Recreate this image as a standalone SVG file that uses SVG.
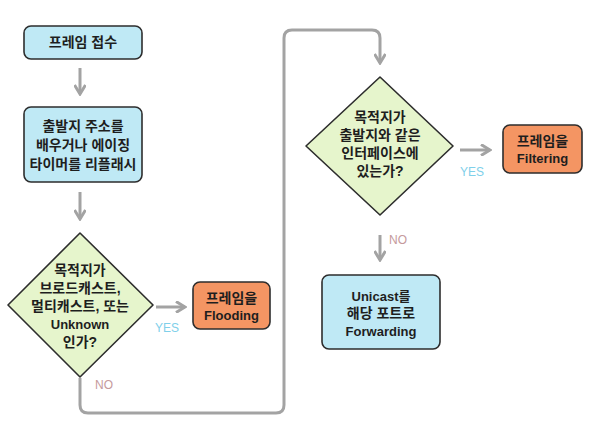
<svg xmlns="http://www.w3.org/2000/svg" width="604" height="442" viewBox="0 0 604 442">
<defs>
<marker id="chev" viewBox="0 0 12 12" refX="10" refY="6" markerWidth="12" markerHeight="12" markerUnits="userSpaceOnUse" orient="auto">
<polyline points="1,0.5 10,6 1,11.5" fill="none" stroke="#a3a3a3" stroke-width="3" stroke-linejoin="miter"/>
</marker>
<style>
.t{font-family:"Liberation Sans","Noto Sans CJK KR",sans-serif;font-size:13px;font-weight:bold;fill:#1e1e1e;text-anchor:middle}
.k{font-size:14px}
.blue{fill:#bfe9f5;stroke:#2d2d2d;stroke-width:1.6}
.org{fill:#f49563;stroke:#2d2d2d;stroke-width:1.6}
.grn{fill:#e6f5cc;stroke:#2d2d2d;stroke-width:1.6;stroke-linejoin:round}
.c{fill:none;stroke:#a3a3a3;stroke-width:3}
.yes{font-family:"Liberation Sans",sans-serif;font-size:12px;fill:#7fd0ea;text-anchor:middle}
.no{font-family:"Liberation Sans",sans-serif;font-size:12px;fill:#c59a9c;text-anchor:middle}
</style>
</defs>
<rect width="604" height="442" fill="#ffffff"/>
<g id="connectors">
<line class="c" x1="80" y1="68" x2="80" y2="94" marker-end="url(#chev)"/>
<line class="c" x1="80" y1="192" x2="80" y2="219" marker-end="url(#chev)"/>
<line class="c" x1="156" y1="307" x2="185" y2="307" marker-end="url(#chev)"/>
<path class="c" d="M80,378 V405 Q80,413 88,413 H276 Q284,413 284,405 V38 Q284,30 292,30 H372 Q380,30 380,38 V63" marker-end="url(#chev)"/>
<line class="c" x1="460" y1="150" x2="490" y2="150" marker-end="url(#chev)"/>
<line class="c" x1="380" y1="235" x2="380" y2="260" marker-end="url(#chev)"/>
<text class="yes" x="167" y="332">YES</text>
<text class="no" x="104" y="389">NO</text>
<text class="yes" x="472" y="176">YES</text>
<text class="no" x="398" y="244">NO</text>
</g>
<g id="n1">
<rect class="blue" x="24" y="26" width="118" height="33" rx="7"/>
<text class="t k" x="83" y="47">프레임 접수</text>
</g>
<g id="n2">
<rect class="blue" x="24" y="107" width="118" height="75" rx="7"/>
<text class="t k" x="83" y="131">출발지 주소를</text>
<text class="t k" x="83" y="150">배우거나 에이징</text>
<text class="t k" x="83" y="169">타이머를 리플래시</text>
</g>
<g id="d1">
<path class="grn" d="M80,233 L153,305 L80,377 L8,305 Z"/>
<text class="t k" x="80" y="275">목적지가</text>
<text class="t k" x="80" y="293">브로드캐스트,</text>
<text class="t k" x="80" y="311">멀티캐스트, 또는</text>
<text class="t" x="80" y="329">Unknown</text>
<text class="t k" x="80" y="347">인가?</text>
</g>
<g id="n3">
<rect class="org" x="193" y="282" width="77" height="47" rx="7"/>
<text class="t k" x="231.5" y="303">프레임을</text>
<text class="t" x="231.5" y="320">Flooding</text>
</g>
<g id="d2">
<path class="grn" d="M380,77 L453,146 L380,215 L306,146 Z"/>
<text class="t k" x="380" y="122">목적지가</text>
<text class="t k" x="380" y="140">출발지와 같은</text>
<text class="t k" x="380" y="158">인터페이스에</text>
<text class="t k" x="380" y="176">있는가?</text>
</g>
<g id="n4">
<rect class="org" x="503" y="125" width="79" height="48" rx="7"/>
<text class="t k" x="542.5" y="146">프레임을</text>
<text class="t" x="542.5" y="163">Filtering</text>
</g>
<g id="n5">
<rect class="blue" x="322" y="275" width="118" height="74" rx="7"/>
<text class="t" x="381" y="301">Unicast를</text>
<text class="t k" x="381" y="318">해당 포트로</text>
<text class="t" x="381" y="336">Forwarding</text>
</g>
</svg>
